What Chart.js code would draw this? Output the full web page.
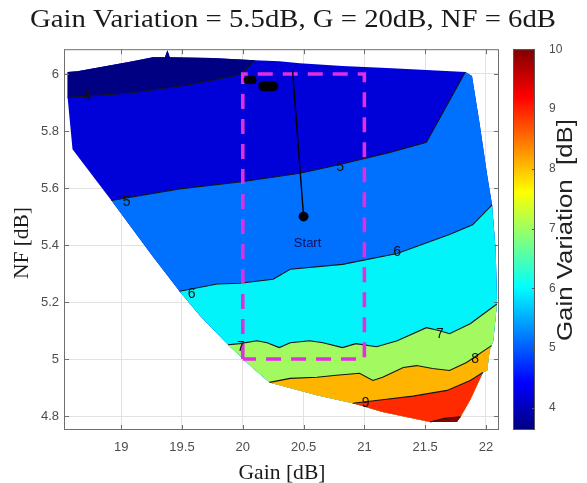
<!DOCTYPE html>
<html>
<head>
<meta charset="utf-8">
<script src="https://cdn.jsdelivr.net/npm/chart.js@4.4.1/dist/chart.umd.min.js"></script>
<style>
  html, body { margin: 0; padding: 0; background: #fff; }
  canvas { display: block; }
</style>
</head>
<body>
<canvas id="chart" width="587" height="483"></canvas>
<script>
// axis ranges and ticks
const xRange = [18.53, 22.107];
const yRange = [4.751, 6.087];
const cbRange = [3.63, 10];
const xTicks = [19, 19.5, 20, 20.5, 21, 21.5, 22];
const yTicks = [4.8, 5, 5.2, 5.4, 5.6, 5.8, 6];
const cbTicks = [4, 5, 6, 7, 8, 9, 10];

const titleText = "Gain Variation = 5.5dB, G = 20dB, NF = 6dB";
const xTitle = "Gain [dB]";
const yTitle = "NF [dB]";
const cbTitle = "Gain Variation  [dB]";

// outer edge of the feasible region, clockwise (top, right, bottom, left)
const outline = [
  [18.56, 6.007], [18.64, 6.010], [18.88, 6.028], [19.095, 6.045], [19.26, 6.059],
  [19.36, 6.059], [19.38, 6.083], [19.40, 6.059], [19.75, 6.056], [20.10, 6.048],
  [20.30, 6.045], [20.47, 6.038], [20.82, 6.028], [21.185, 6.021], [21.51, 6.014], [21.83, 6.007],
  [21.885, 5.993], [21.95, 5.819], [22.01, 5.645], [22.05, 5.541], [22.08, 5.38], [22.09, 5.214], [22.09, 5.193],
  [22.06, 5.064], [22.045, 5.047], [22.03, 5.03], [22.01, 4.96], [21.975, 4.953], [21.87, 4.856],
  [21.79, 4.797], [21.76, 4.779],
  [21.54, 4.779], [21.15, 4.814], [20.905, 4.845], [20.61, 4.873], [20.22, 4.918], [20.06, 4.977],
  [19.88, 5.05], [19.65, 5.151], [19.48, 5.238], [19.26, 5.36], [18.92, 5.556], [18.6, 5.736], [18.56, 5.917]
];

// contour lines, left to right
const contour4 = [[18.56, 5.917], [19.095, 5.934], [19.56, 5.962], [19.975, 5.997], [20.10, 6.048]];
const contour5 = [[18.92, 5.556], [19.48, 5.597], [19.975, 5.621], [20.47, 5.652], [20.77, 5.68],
  [21.21, 5.725], [21.51, 5.76], [21.83, 6.007]];
const contour6 = [[19.48, 5.238], [19.79, 5.263], [19.975, 5.266], [20.25, 5.28], [20.39, 5.315],
  [20.82, 5.332], [21.27, 5.37], [21.70, 5.437], [21.89, 5.471], [22.05, 5.541]];
const contour7 = [[19.88, 5.05], [19.975, 5.054], [20.115, 5.064], [20.20, 5.057], [20.30, 5.04],
  [20.39, 5.057], [20.55, 5.064], [20.66, 5.057], [20.82, 5.04], [20.93, 5.054], [21.10, 5.043],
  [21.27, 5.064], [21.51, 5.11], [21.62, 5.099], [21.70, 5.089], [21.87, 5.124], [22.09, 5.193]];
const contour8 = [[20.22, 4.918], [20.39, 4.932], [20.61, 4.936], [20.77, 4.943], [20.96, 4.95],
  [21.07, 4.925], [21.15, 4.936], [21.32, 4.97], [21.43, 4.977], [21.56, 4.967], [21.70, 4.96],
  [21.84, 4.988], [22.045, 5.047]];
const contour9 = [[20.905, 4.845], [21.13, 4.856], [21.40, 4.87], [21.68, 4.89], [21.87, 4.925], [21.975, 4.953]];
const contour10 = [[21.54, 4.779], [21.66, 4.792], [21.79, 4.797]];

const levelColors = ["#000082", "#0000D8", "#0070FF", "#00F4FA", "#A2FA60", "#FFB400", "#FF2A00", "#8C0000"];

// contour labels [x, y, text]
const contourLabels = [
  [18.72, 5.923, "4"], [19.045, 5.551, "5"], [20.80, 5.673, "5"],
  [19.58, 5.228, "6"], [21.27, 5.374, "6"], [19.985, 5.04, "7"],
  [21.62, 5.089, "7"], [21.91, 5.0, "8"], [21.01, 4.845, "9"]
];

const searchBox = [[20, 5], [20, 6], [21, 6], [21, 5], [20, 5]];
const startPoint = [20.5, 5.5];
const startPath = [[20.5, 5.5], [20.41, 6.01]];
const blobA = [[20.04, 5.979], [20.08, 5.979]];
const blobB = [[20.17, 5.957], [20.25, 5.957]];

function pts(arr) {
  return arr.map(([x, y]) => ({ x, y }));
}

function ringIndex(p) {
  return outline.findIndex(q => q[0] === p[0] && q[1] === p[1]);
}

// contour path + the outline walked clockwise from its end back to its start
function region(path) {
  const n = outline.length;
  const j = ringIndex(path[0]);
  let i = (ringIndex(path[path.length - 1]) + 1) % n;
  const out = path.slice();
  while (i !== j) {
    out.push(outline[i]);
    i = (i + 1) % n;
  }
  return out;
}

function fillSet(poly, color) {
  return {
    data: pts(poly), showLine: true, fill: "shape", backgroundColor: color,
    borderColor: "transparent", borderWidth: 1, pointRadius: 0, tension: 0
  };
}

function lineSet(path, color, width, extra) {
  return Object.assign({
    data: pts(path), showLine: true, fill: false, borderColor: color,
    borderWidth: width, pointRadius: 0, tension: 0
  }, extra || {});
}

const layers = [
  fillSet(outline, levelColors[1]),
  fillSet(region(contour4.slice().reverse()), levelColors[0]),
  fillSet(region(contour5), levelColors[2]),
  fillSet(region(contour6), levelColors[3]),
  fillSet(region(contour7), levelColors[4]),
  fillSet(region(contour8), levelColors[5]),
  fillSet(region(contour9), levelColors[6]),
  fillSet(region(contour10), levelColors[7]),
  ...[contour4, contour5, contour6, contour7, contour8, contour9, contour10]
    .map(c => lineSet(c, "#151515", 1.1)),
  lineSet(searchBox, "#E22EE2", 3.6, { borderDash: [15, 10] }),
  lineSet(startPath, "#000", 1.4),
  lineSet(blobA, "#000", 8, { borderCapStyle: "round" }),
  lineSet(blobB, "#000", 10, { borderCapStyle: "round" }),
  { data: pts([startPoint]), pointRadius: 4.5, pointBackgroundColor: "#000", pointBorderColor: "#000", showLine: false }
];
// first layer at the bottom
layers.forEach((d, i) => { d.order = layers.length - i; d.xAxisID = "x"; d.yAxisID = "y"; });

const tickFont = { family: "'Liberation Sans', Arial, sans-serif", size: 13 };

function jet(ctx, y0, y1) {
  const g = ctx.createLinearGradient(0, y0, 0, y1);
  g.addColorStop(0, "#000080");
  g.addColorStop(0.125, "#0000FF");
  g.addColorStop(0.375, "#00FFFF");
  g.addColorStop(0.625, "#FFFF00");
  g.addColorStop(0.875, "#FF0000");
  g.addColorStop(1, "#800000");
  return g;
}

function fitText(ctx, text, cx, cy, width, rot) {
  ctx.save();
  ctx.translate(cx, cy);
  ctx.rotate(rot);
  const w = ctx.measureText(text).width;
  ctx.scale(width / w, 1);
  ctx.textAlign = "center";
  ctx.fillText(text, 0, 0);
  ctx.restore();
}

const decor = {
  id: "decor",
  beforeDraw(chart) {
    const ctx = chart.ctx;
    ctx.save();
    ctx.fillStyle = "#fff";
    ctx.fillRect(0, 0, chart.width, chart.height);
    ctx.restore();
  },
  afterDraw(chart) {
    const ctx = chart.ctx;
    const { left, right, top, bottom } = chart.chartArea;
    const xs = chart.scales.x, ys = chart.scales.y, cb = chart.scales.cb;
    ctx.save();

    // contour labels and start marker text
    ctx.font = "14px 'Liberation Sans', Arial, sans-serif";
    ctx.fillStyle = "#111";
    ctx.textAlign = "center";
    ctx.textBaseline = "middle";
    contourLabels.forEach(([x, y, t]) => {
      ctx.fillText(t, xs.getPixelForValue(x), ys.getPixelForValue(y));
    });
    ctx.font = "13px 'Liberation Sans', Arial, sans-serif";
    ctx.fillStyle = "#10105A";
    ctx.fillText("Start", xs.getPixelForValue(startPoint[0]) + 4, ys.getPixelForValue(startPoint[1]) + 27);

    // axes box with inward ticks
    ctx.strokeStyle = "#6e6e6e";
    ctx.lineWidth = 1;
    ctx.strokeRect(left + 0.5, top + 0.5, right - left - 1, bottom - top - 1);
    ctx.beginPath();
    xTicks.forEach(v => {
      const px = Math.round(xs.getPixelForValue(v)) + 0.5;
      ctx.moveTo(px, bottom); ctx.lineTo(px, bottom - 5);
      ctx.moveTo(px, top); ctx.lineTo(px, top + 5);
    });
    yTicks.forEach(v => {
      const py = Math.round(ys.getPixelForValue(v)) + 0.5;
      ctx.moveTo(left, py); ctx.lineTo(left + 5, py);
      ctx.moveTo(right, py); ctx.lineTo(right - 5, py);
    });
    ctx.stroke();

    // colorbar
    const cx0 = 513, cw = 22;
    const cTop = cb.getPixelForValue(cbRange[1]);
    const cBot = cb.getPixelForValue(cbRange[0]);
    ctx.fillStyle = jet(ctx, cBot, cTop);
    ctx.fillRect(cx0, cTop, cw, cBot - cTop);
    ctx.strokeStyle = "#555";
    ctx.strokeRect(cx0 + 0.5, cTop + 0.5, cw - 1, cBot - cTop - 1);
    ctx.beginPath();
    cbTicks.forEach(v => {
      const py = Math.round(cb.getPixelForValue(v)) + 0.5;
      ctx.moveTo(cx0 + cw, py); ctx.lineTo(cx0 + cw - 3, py);
    });
    ctx.stroke();

    // titles
    ctx.fillStyle = "#1a1a1a";
    ctx.textBaseline = "alphabetic";
    ctx.font = "26px 'Liberation Serif', 'DejaVu Serif', serif";
    fitText(ctx, titleText, 293, 27, 526, 0);
    ctx.font = "22px 'Liberation Serif', 'DejaVu Serif', serif";
    fitText(ctx, xTitle, 282, 479, 87, 0);
    ctx.textBaseline = "middle";
    fitText(ctx, yTitle, 22, 243, 72, -Math.PI / 2);
    ctx.font = "22px 'Liberation Sans', Arial, sans-serif";
    ctx.fillStyle = "#222";
    fitText(ctx, cbTitle, 566, 230, 222, -Math.PI / 2);
    ctx.restore();
  }
};

new Chart(document.getElementById("chart"), {
  type: "scatter",
  data: { datasets: layers },
  options: {
    responsive: false,
    animation: false,
    events: [],
    layout: { padding: { top: 46, left: 0, right: 0, bottom: 0 } },
    plugins: {
      legend: { display: false },
      tooltip: { enabled: false },
      title: { display: false }
    },
    scales: {
      x: {
        type: "linear", min: xRange[0], max: xRange[1],
        afterBuildTicks: s => { s.ticks = xTicks.map(v => ({ value: v })); },
        afterFit: s => { s.height = 53; },
        grid: { color: "#e2e2e2", drawTicks: false },
        border: { display: false },
        ticks: { padding: 10, color: "#4d4d4d", font: tickFont, maxRotation: 0, autoSkip: false, callback: v => String(v) }
      },
      y: {
        type: "linear", min: yRange[0], max: yRange[1],
        afterBuildTicks: s => { s.ticks = yTicks.map(v => ({ value: v })); },
        afterFit: s => { s.width = 64; },
        grid: { color: "#e2e2e2", drawTicks: false },
        border: { display: false },
        ticks: { padding: 5, color: "#4d4d4d", font: tickFont, autoSkip: false, callback: v => String(v) }
      },
      cb: {
        type: "linear", position: "right", min: cbRange[0], max: cbRange[1],
        afterBuildTicks: s => { s.ticks = cbTicks.map(v => ({ value: v })); },
        afterFit: s => { s.width = 88; },
        grid: { display: false, drawOnChartArea: false },
        border: { display: false },
        ticks: { padding: 42, color: "#4d4d4d", font: { family: tickFont.family, size: 12 }, autoSkip: false, callback: v => String(v) }
      }
    }
  },
  plugins: [decor]
});
</script>
</body>
</html>
